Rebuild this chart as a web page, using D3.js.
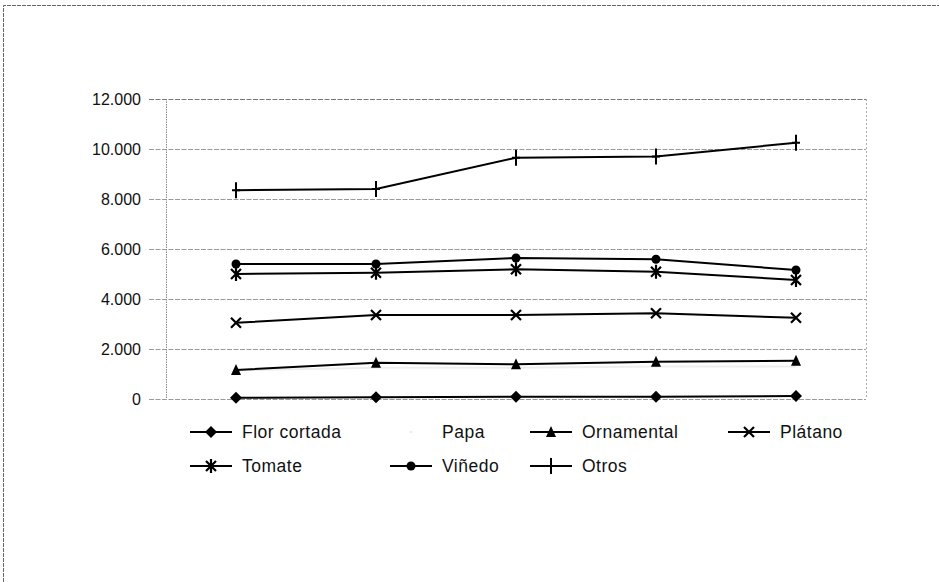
<!DOCTYPE html>
<html>
<head>
<meta charset="utf-8">
<script src="https://cdn.jsdelivr.net/npm/d3@7"></script>
<style>
  html, body { margin: 0; padding: 0; background: #fff; }
  svg { display: block; }
  text { font-family: "Liberation Sans", Arial, sans-serif; fill: #111; }
</style>
</head>
<body>
<svg id="chart" width="939" height="582"></svg>
<script>
// Superficie por cultivo, cinco periodos
const categories = ["P1", "P2", "P3", "P4", "P5"];
const florCortada = [50, 70, 90, 90, 120];
const papa = [1150, 1250, 1250, 1300, 1300];
const ornamental = [1160, 1450, 1390, 1490, 1530];
const platano = [3050, 3360, 3360, 3430, 3250];
const tomate = [5000, 5050, 5190, 5090, 4760];
const vinedo = [5400, 5400, 5640, 5590, 5160];
const otros = [8350, 8400, 9650, 9700, 10250];
const yTicks = [0, 2000, 4000, 6000, 8000, 10000, 12000];

const seriesNames = ["Flor cortada", "Papa", "Ornamental", "Plátano", "Tomate", "Viñedo", "Otros"];
const seriesValues = [florCortada, papa, ornamental, platano, tomate, vinedo, otros];
const seriesMarkers = ["diamond", "none", "triangle", "cross", "asterisk", "circle", "plus"];

const svg = d3.select("#chart");
const W = 939, H = 582;
const plot = { left: 166, right: 866, top: 99, bottom: 399 };

const es = d3.formatLocale({ decimal: ",", thousands: ".", grouping: [3], currency: ["", " €"] });
const fmt = es.format(",d");

const x = d3.scalePoint().domain(categories).range([plot.left, plot.right]).padding(0.5);
const y = d3.scaleLinear().domain([0, 12000]).range([plot.bottom, plot.top]);

// outer frame: top and left edges
svg.append("path").attr("d", `M3.5,${H}L3.5,5.5L${W},5.5`)
  .attr("fill", "none").attr("stroke", "#666").attr("stroke-width", 1).attr("stroke-dasharray", "4,1");

// gridlines
svg.append("g").selectAll("line").data(yTicks).join("line")
  .attr("x1", 149).attr("x2", plot.right)
  .attr("y1", d => Math.round(y(d)) + 0.5).attr("y2", d => Math.round(y(d)) + 0.5)
  .attr("stroke", d => d === 12000 ? "#777" : "#999").attr("stroke-width", 1)
  .attr("stroke-dasharray", "5,1.5");

// plot border sides
svg.append("line").attr("x1", plot.left + 0.5).attr("x2", plot.left + 0.5)
  .attr("y1", plot.top).attr("y2", plot.bottom)
  .attr("stroke", "#888").attr("stroke-dasharray", "1.5,1");
svg.append("line").attr("x1", plot.right + 0.5).attr("x2", plot.right + 0.5)
  .attr("y1", plot.top).attr("y2", plot.bottom)
  .attr("stroke", "#aaa").attr("stroke-dasharray", "2,2");

// y axis labels
const yAxis = d3.axisLeft(y).tickValues(yTicks).tickFormat(fmt).tickSize(0).tickPadding(0);
const gy = svg.append("g").attr("transform", `translate(141,0)`).call(yAxis);
gy.select(".domain").remove();
gy.selectAll("text").attr("font-size", 16).attr("font-family", "Liberation Sans, Arial, sans-serif").attr("fill", "#111");

// x axis (no labels)
const xAxis = d3.axisBottom(x).tickSize(0).tickFormat("");
const gx = svg.append("g").attr("transform", `translate(0,${plot.bottom})`).call(xAxis);
gx.select(".domain").remove();

// marker drawing
function marker(g, type, cx, cy) {
  const s = g.append("g").attr("transform", `translate(${cx},${cy})`);
  if (type === "diamond") {
    s.append("path").attr("d", "M0,-6L6,0L0,6L-6,0Z").attr("fill", "#000");
  } else if (type === "triangle") {
    s.append("path").attr("d", "M0,-6L5,5L-5,5Z").attr("fill", "#000");
  } else if (type === "circle") {
    s.append("circle").attr("r", 4.5).attr("fill", "#000");
  } else if (type === "cross") {
    s.append("path").attr("d", "M-5,-5L5,5M-5,5L5,-5").attr("stroke", "#000").attr("stroke-width", 2.2);
  } else if (type === "asterisk") {
    s.append("path").attr("d", "M-5,-5L5,5M-5,5L5,-5M0,-7L0,7").attr("stroke", "#000").attr("stroke-width", 2.2);
  } else if (type === "plus") {
    s.append("path").attr("d", "M0,-8L0,8M-4,0L4,0").attr("stroke", "#000").attr("stroke-width", 2);
  }
}

// series lines and markers
const line = d3.line().x((d, i) => x(categories[i])).y(d => y(d));
seriesValues.forEach((vals, k) => {
  const g = svg.append("g");
  const isPapa = seriesMarkers[k] === "none";
  g.append("path").attr("d", line(vals)).attr("fill", "none")
    .attr("stroke", isPapa ? "#eeeeee" : "#000").attr("stroke-width", 2);
  vals.forEach((v, i) => marker(g, seriesMarkers[k], x(categories[i]), y(v)));
});

// legend
const legCols = [190, 390, 530, 728];
const legRows = [432, 466];
const legend = svg.append("g");
seriesNames.forEach((name, k) => {
  const col = legCols[k % 4], row = legRows[Math.floor(k / 4)];
  const g = legend.append("g");
  const isPapa = seriesMarkers[k] === "none";
  if (!isPapa) {
    g.append("line").attr("x1", col).attr("x2", col + 42).attr("y1", row).attr("y2", row)
      .attr("stroke", "#000").attr("stroke-width", 2);
    marker(g, seriesMarkers[k], col + 21, row);
  } else {
    g.append("circle").attr("cx", col + 21).attr("cy", row).attr("r", 0.8).attr("fill", "#ccc");
  }
  g.append("text").attr("x", col + 52).attr("y", row).attr("dy", "0.36em")
    .attr("font-size", 17.5).attr("letter-spacing", "0.5px").text(name);
});
</script>
</body>
</html>
